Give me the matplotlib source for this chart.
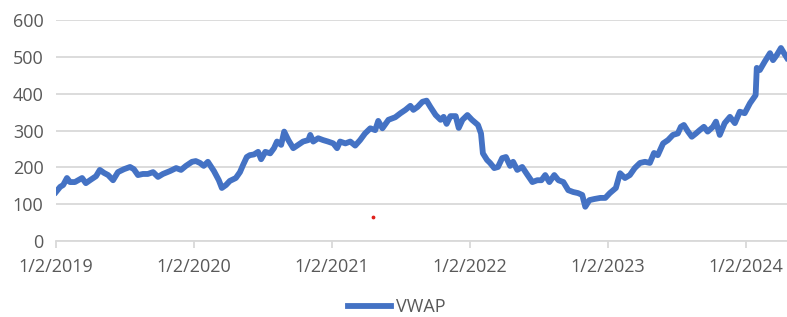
import matplotlib.pyplot as plt
import matplotlib.dates as mdates
import numpy as np
import pandas as pd

## data (VWAP, roughly every two weeks)
dates = [
    '2019-01-02', '2019-01-13', '2019-01-21', '2019-01-31', '2019-02-08', '2019-02-21',
    '2019-03-12', '2019-03-22', '2019-04-02', '2019-04-18', '2019-04-28', '2019-05-09',
    '2019-05-20', '2019-06-02', '2019-06-15', '2019-07-01', '2019-07-17', '2019-07-27',
    '2019-08-07', '2019-08-20', '2019-09-02', '2019-09-16', '2019-09-29', '2019-10-12',
    '2019-10-31', '2019-11-16', '2019-11-29', '2019-12-12', '2019-12-28',
    '2020-01-07', '2020-01-18', '2020-01-28', '2020-02-08', '2020-02-24', '2020-03-08',
    '2020-03-16', '2020-03-27', '2020-04-06', '2020-04-22', '2020-05-03', '2020-05-11',
    '2020-05-21', '2020-05-29', '2020-06-09', '2020-06-20', '2020-06-28', '2020-07-09',
    '2020-07-22', '2020-08-01', '2020-08-09', '2020-08-20', '2020-08-28', '2020-09-08',
    '2020-09-21', '2020-10-04', '2020-10-17', '2020-10-31', '2020-11-05', '2020-11-13',
    '2020-11-26', '2020-12-09', '2020-12-22',
    '2021-01-05', '2021-01-15', '2021-01-23', '2021-02-06', '2021-02-19', '2021-03-04',
    '2021-03-17', '2021-03-30', '2021-04-13', '2021-04-26', '2021-05-04', '2021-05-15',
    '2021-05-31', '2021-06-18', '2021-07-02', '2021-07-15', '2021-07-28', '2021-08-05',
    '2021-08-16', '2021-08-29', '2021-09-09', '2021-09-19', '2021-10-03', '2021-10-16',
    '2021-10-24', '2021-11-01', '2021-11-11', '2021-11-25', '2021-12-03', '2021-12-13',
    '2021-12-26',
    '2022-01-07', '2022-01-23', '2022-01-31', '2022-02-05', '2022-02-16', '2022-02-24',
    '2022-03-07', '2022-03-17', '2022-03-28', '2022-04-07', '2022-04-18', '2022-04-26',
    '2022-05-07', '2022-05-20', '2022-05-31', '2022-06-16', '2022-06-29', '2022-07-10',
    '2022-07-20', '2022-07-31', '2022-08-13', '2022-08-24', '2022-09-06', '2022-09-19',
    '2022-10-02', '2022-10-15', '2022-10-26', '2022-11-03', '2022-11-14', '2022-11-27',
    '2022-12-13', '2022-12-26',
    '2023-01-07', '2023-01-23', '2023-02-03', '2023-02-16', '2023-03-01', '2023-03-14',
    '2023-03-28', '2023-04-10', '2023-04-23', '2023-05-04', '2023-05-14', '2023-05-28',
    '2023-06-10', '2023-06-23', '2023-07-06', '2023-07-14', '2023-07-22', '2023-08-02',
    '2023-08-12', '2023-08-23', '2023-09-02', '2023-09-13', '2023-09-23', '2023-10-07',
    '2023-10-15', '2023-10-25', '2023-11-07', '2023-11-21', '2023-12-04', '2023-12-17',
    '2023-12-30',
    '2024-01-13', '2024-01-28', '2024-01-31', '2024-02-08', '2024-02-21', '2024-03-06',
    '2024-03-14', '2024-03-24', '2024-04-04', '2024-04-12', '2024-04-20',
]
vwap = [
    133, 147, 152, 171, 160, 160,
    171, 157, 165, 176, 193, 185,
    179, 165, 187, 195, 201, 195,
    179, 182, 182, 187, 174, 182,
    190, 198, 193, 204, 215,
    217, 212, 204, 215, 190, 165,
    144, 152, 163, 171, 187, 206,
    228, 233, 235, 242, 222, 242,
    238, 252, 270, 261, 297, 274,
    252, 261, 270, 274, 288, 270,
    279, 274, 270,
    265, 252, 270, 265, 270, 259,
    274, 292, 306, 301, 326, 306,
    329, 336, 347, 356, 367, 356,
    364, 378, 381, 364, 342, 329,
    337, 318, 339, 339, 307, 329,
    342,
    329, 315, 292, 238, 220, 212,
    198, 201, 225, 228, 204, 215,
    193, 201, 184, 160, 165, 165,
    179, 160, 179, 165, 160, 138,
    133, 130, 125, 93, 111, 114,
    117, 117,
    130, 144, 184, 171, 179, 198,
    212, 215, 212, 239, 233, 265,
    274, 288, 292, 310, 315, 297,
    283, 292, 301, 310, 297, 310,
    324, 288, 320, 337, 320, 351,
    347,
    374, 396, 470, 464, 487, 510,
    491, 505, 524, 510, 497,
]

# stray red dot in the original picture
dot_date = ['2021-04-20']
dot_value = [65]

tick_dates = ['2019-01-02', '2020-01-02', '2021-01-02', '2022-01-02', '2023-01-02', '2024-01-02']
y_ticks = [0, 100, 200, 300, 400, 500, 600]

## plot
plt.rcParams['font.family'] = ['Open Sans', 'DejaVu Sans']
grey = '#595959'
blue = '#4472C4'

fig = plt.figure(figsize=(7.87, 3.17), dpi=100)
ax = fig.add_axes([56 / 787, 76 / 317, 1 - 56 / 787, 221 / 317])

x = pd.to_datetime(dates)
ax.plot(x, vwap, color=blue, lw=4.2, solid_joinstyle='round', label='VWAP', zorder=3)
ax.scatter(pd.to_datetime(dot_date), dot_value, s=3, color='#E0201B', zorder=4)

ax.set_ylim(0, 600)
ax.set_yticks(y_ticks)
ax.set_xlim(pd.Timestamp('2019-01-02'), pd.Timestamp('2024-04-20'))
ax.set_xticks(pd.to_datetime(tick_dates))
ax.xaxis.set_major_formatter(plt.FuncFormatter(
    lambda v, pos: (lambda d: f"{d.month}/{d.day}/{d.year}")(mdates.num2date(v))))

ax.grid(axis='y', color='#D9D9D9', lw=1.3)
ax.set_axisbelow(True)
for s in ['top', 'right', 'left']:
    ax.spines[s].set_visible(False)
ax.spines['bottom'].set_color('#D9D9D9')
ax.spines['bottom'].set_linewidth(1.3)

ax.tick_params(axis='y', length=0, pad=9, labelsize=13, labelcolor=grey)
ax.tick_params(axis='x', length=5, width=1.3, color='#D9D9D9', pad=7, labelsize=13, labelcolor=grey)

fig.legend(loc='center', bbox_to_anchor=(0.504, 10 / 317), frameon=False,
           fontsize=13, labelcolor=grey, handlelength=2.4, handletextpad=0.3)

fig.savefig('out.png', dpi=100)
